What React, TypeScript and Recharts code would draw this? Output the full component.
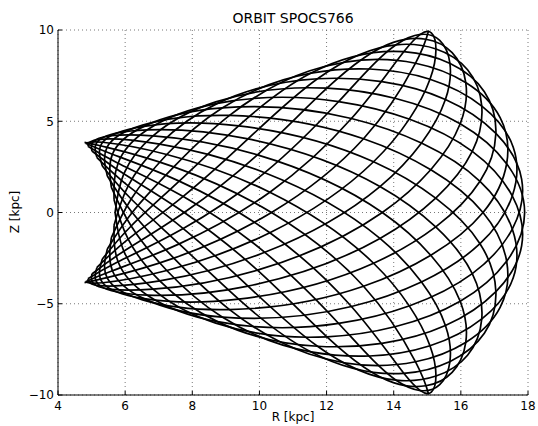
import React from 'react';
import { LineChart, Line, XAxis, YAxis, CartesianGrid } from 'recharts';

type Pt = [number, number];

const rTicks = [4, 6, 8, 10, 12, 14, 16, 18];
const zTicks = [-10, -5, 0, 5, 10];
const titleText = 'ORBIT SPOCS766';
const xLabel = 'R [kpc]';
const yLabel = 'Z [kpc]';

// orbit strands, [R, z] in kpc
const loop00: Pt[] = [[4.79,-3.84],[5.46,-3.57],[7.45,-2.5],[10.36,0],[13.1,4.04],[14.65,8.18],[15.04,9.97]];
const loop01: Pt[] = [[4.82,-3.79],[5.62,-3.19],[7.61,-1.72],[10.31,1.11],[12.74,5.15],[14.3,8.81],[15.12,9.84],[15.08,7.3],[13.4,2.78],[10.31,-1.11],[7.24,-3.18],[5.33,-3.85]];
const loop02: Pt[] = [[4.89,-3.63],[5.79,-2.7],[7.73,-0.88],[10.16,2.18],[12.36,6.08],[14.07,9.19],[15.37,9.43],[15.54,6.19],[13.59,1.42],[10.16,-2.18],[7.03,-3.75],[5.25,-4.01]];
const loop03: Pt[] = [[5.01,-3.37],[5.96,-2.12],[7.76,0],[9.94,3.16],[12.01,6.81],[13.99,9.32],[15.74,8.76],[15.98,4.86],[13.66,0],[9.94,-3.16],[6.83,-4.2],[5.22,-4.07]];
const loop04: Pt[] = [[5.16,-3.01],[6.09,-1.46],[7.73,0.88],[9.66,4.03],[11.73,7.33],[14.07,9.19],[16.2,7.82],[16.34,3.35],[13.59,-1.42],[9.66,-4.03],[6.66,-4.53],[5.25,-4.01]];
const loop05: Pt[] = [[5.32,-2.55],[6.18,-0.74],[7.61,1.72],[9.38,4.75],[11.54,7.64],[14.3,8.81],[16.7,6.62],[16.57,1.71],[13.4,-2.78],[9.38,-4.75],[6.56,-4.72],[5.33,-3.85]];
const loop06: Pt[] = [[5.47,-2],[6.21,0],[7.45,2.5],[9.11,5.32],[11.48,7.75],[14.65,8.18],[17.17,5.2],[16.66,0],[13.1,-4.04],[9.11,-5.32],[6.52,-4.79],[5.46,-3.57]];
const loop07: Pt[] = [[5.59,-1.38],[6.18,0.74],[7.24,3.18],[8.89,5.73],[11.54,7.64],[15.08,7.3],[17.56,3.58],[16.57,-1.71],[12.74,-5.15],[8.89,-5.73],[6.56,-4.72],[5.62,-3.19]];
const loop08: Pt[] = [[5.67,-0.7],[6.09,1.46],[7.03,3.75],[8.75,5.98],[11.73,7.33],[15.54,6.19],[17.81,1.83],[16.34,-3.35],[12.36,-6.08],[8.75,-5.98],[6.66,-4.53],[5.79,-2.7]];
const loop09: Pt[] = [[5.7,0],[5.96,2.12],[6.83,4.2],[8.7,6.06],[12.01,6.81],[15.98,4.86],[17.9,0],[15.98,-4.86],[12.01,-6.81],[8.7,-6.06],[6.83,-4.2],[5.96,-2.12]];
const loop10: Pt[] = [[5.67,0.7],[6.09,-1.46],[7.03,-3.75],[8.75,-5.98],[11.73,-7.33],[15.54,-6.19],[17.81,-1.83],[16.34,3.35],[12.36,6.08],[8.75,5.98],[6.66,4.53],[5.79,2.7]];
const loop11: Pt[] = [[5.59,1.38],[6.18,-0.74],[7.24,-3.18],[8.89,-5.73],[11.54,-7.64],[15.08,-7.3],[17.56,-3.58],[16.57,1.71],[12.74,5.15],[8.89,5.73],[6.56,4.72],[5.62,3.19]];
const loop12: Pt[] = [[5.47,2],[6.21,0],[7.45,-2.5],[9.11,-5.32],[11.48,-7.75],[14.65,-8.18],[17.17,-5.2],[16.66,0],[13.1,4.04],[9.11,5.32],[6.52,4.79],[5.46,3.57]];
const loop13: Pt[] = [[5.32,2.55],[6.18,0.74],[7.61,-1.72],[9.38,-4.75],[11.54,-7.64],[14.3,-8.81],[16.7,-6.62],[16.57,-1.71],[13.4,2.78],[9.38,4.75],[6.56,4.72],[5.33,3.85]];
const loop14: Pt[] = [[5.16,3.01],[6.09,1.46],[7.73,-0.88],[9.66,-4.03],[11.73,-7.33],[14.07,-9.19],[16.2,-7.82],[16.34,-3.35],[13.59,1.42],[9.66,4.03],[6.66,4.53],[5.25,4.01]];
const loop15: Pt[] = [[5.01,3.37],[5.96,2.12],[7.76,0],[9.94,-3.16],[12.01,-6.81],[13.99,-9.32],[15.74,-8.76],[15.98,-4.86],[13.66,0],[9.94,3.16],[6.83,4.2],[5.22,4.07]];
const loop16: Pt[] = [[4.89,3.63],[5.79,2.7],[7.73,0.88],[10.16,-2.18],[12.36,-6.08],[14.07,-9.19],[15.37,-9.43],[15.54,-6.19],[13.59,-1.42],[10.16,2.18],[7.03,3.75],[5.25,4.01]];
const loop17: Pt[] = [[4.82,3.79],[5.62,3.19],[7.61,1.72],[10.31,-1.11],[12.74,-5.15],[14.3,-8.81],[15.12,-9.84],[15.08,-7.3],[13.4,-2.78],[10.31,1.11],[7.24,3.18],[5.33,3.85]];
const loop18: Pt[] = [[4.79,3.84],[5.46,3.57],[7.45,2.5],[10.36,0],[13.1,-4.04],[14.65,-8.18],[15.04,-9.97]];

const openStrands: Pt[][] = [loop00, loop18];
const closedLoops: Pt[][] = [
  loop01, loop02, loop03, loop04, loop05, loop06, loop07, loop08, loop09,
  loop10, loop11, loop12, loop13, loop14, loop15, loop16, loop17,
];

const toRows = (pts: Pt[], close: boolean) => {
  const rows = pts.map(([R, z]) => ({ R, z }));
  if (close) rows.push({ R: pts[0][0], z: pts[0][1] });
  return rows;
};

const series = [
  ...openStrands.map((p) => toRows(p, false)),
  ...closedLoops.map((p) => toRows(p, true)),
];

const fmtZ = (v: number) => (v < 0 ? '\u2212' + Math.abs(v) : String(v));
const font = 'DejaVu Sans, sans-serif';
const tickStyle = { fontSize: 12, fill: '#000', fontFamily: font };

export default function App() {
  return (
    <div style={{ position: 'absolute', left: 0, top: 0, width: 538, height: 426, background: '#fff', fontFamily: font, overflow: 'hidden' }}>
      <LineChart width={538} height={426} margin={{ top: 30, right: 10, bottom: 0, left: 0 }}>
        <CartesianGrid stroke="#555" strokeDasharray="1 3" strokeWidth={0.8} />
        <XAxis dataKey="R" type="number" domain={[4, 18]} ticks={rTicks} interval={0} allowDataOverflow height={31}
          tickSize={-4} tickMargin={10} axisLine={{ stroke: '#000' }} tickLine={{ stroke: '#000' }} tick={tickStyle} />
        <XAxis xAxisId="top" orientation="top" dataKey="R" type="number" domain={[4, 18]} ticks={rTicks} interval={0} allowDataOverflow height={0}
          tickSize={-4} tick={false} axisLine={{ stroke: '#000' }} tickLine={{ stroke: '#000' }} />
        <YAxis dataKey="z" type="number" domain={[-10, 10]} ticks={zTicks} interval={0} allowDataOverflow width={58}
          tickSize={-4} tickMargin={8} tickFormatter={fmtZ} axisLine={{ stroke: '#000' }} tickLine={{ stroke: '#000' }} tick={tickStyle} />
        <YAxis yAxisId="right" orientation="right" type="number" domain={[-10, 10]} ticks={zTicks} interval={0} allowDataOverflow width={0}
          tickSize={-4} tick={false} axisLine={{ stroke: '#000' }} tickLine={{ stroke: '#000' }} />
        {series.map((rows, i) => (
          <Line key={i} data={rows} dataKey="z" type="natural" dot={false} activeDot={false}
            stroke="#000" strokeWidth={1.7} isAnimationActive={false} />
        ))}
      </LineChart>
      <div style={{ position: 'absolute', left: 193, width: 200, top: 10, lineHeight: '16px', fontSize: 14, textAlign: 'center', color: '#000' }}>{titleText}</div>
      <div style={{ position: 'absolute', left: 193, width: 200, top: 409, lineHeight: '16px', fontSize: 12, textAlign: 'center', color: '#000' }}>{xLabel}</div>
      <div style={{ position: 'absolute', left: -35, width: 100, top: 204, lineHeight: '16px', fontSize: 12, textAlign: 'center', color: '#000', transform: 'rotate(-90deg)' }}>{yLabel}</div>
    </div>
  );
}
